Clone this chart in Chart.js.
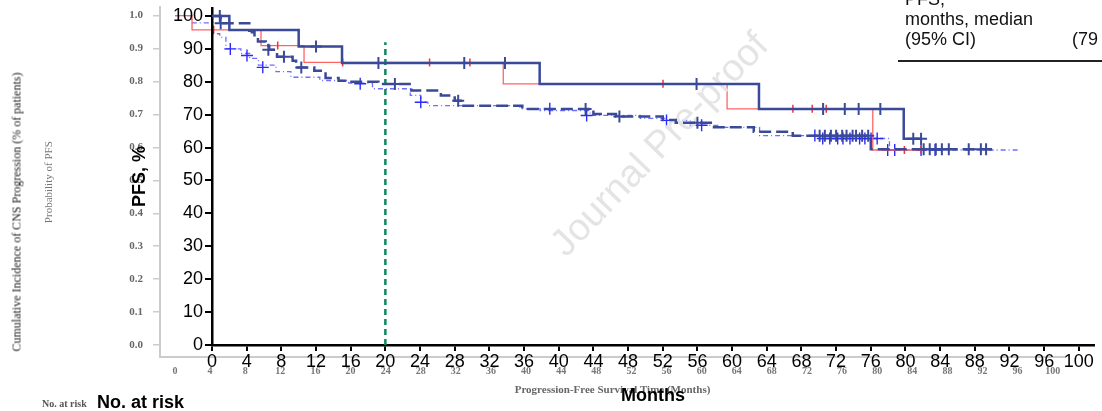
<!DOCTYPE html>
<html>
<head>
<meta charset="utf-8">
<script src="https://cdn.jsdelivr.net/npm/chart.js@4.4.0/dist/chart.umd.min.js"></script>
<style>
  html, body { margin: 0; padding: 0; background: #fff; }
  #wrap { position: relative; width: 1102px; height: 411px; overflow: hidden; font-family: "Liberation Sans", Arial, sans-serif; }
  #wrap canvas { position: absolute; left: 0; top: 0; }
  .txt { position: absolute; white-space: nowrap; }
  #mark { left: 659px; top: 144px; transform: translate(-50%, -50%) rotate(-46deg); font-size: 38px; color: #e4e4e4; }
  #cnsTitle { left: 17px; top: 212px; transform: translate(-50%, -50%) rotate(-90deg); font: 12px "Liberation Serif", serif; color: #222; }
  #riskBack { left: 42px; top: 398px; font: bold 10px "Liberation Serif", serif; color: #555; }
  #riskFront { left: 97px; top: 392px; font-weight: bold; font-size: 18px; line-height: 21px; color: #000; }
  #medianBox { left: 905px; top: -11px; font-size: 18px; line-height: 20px; color: #111; }
  #ciVal { left: 1072px; top: 29px; font-size: 18px; line-height: 20px; color: #111; }
  #boxRule { left: 898px; top: 60px; width: 204px; height: 2px; background: #222; }
</style>
</head>
<body>
<div id="wrap">
  <canvas id="back" width="1102" height="411"></canvas>
  <div class="txt" id="mark">Journal Pre-proof</div>
  <canvas id="front" width="1102" height="411"></canvas>
  <div class="txt" id="cnsTitle">Cumulative Incidence of CNS Progression (% of patients)</div>
  <div class="txt" id="riskBack">No. at risk</div>
  <div class="txt" id="riskFront">No. at risk</div>
  <div class="txt" id="medianBox">PFS,<br>months, median<br>(95% CI)</div>
  <div class="txt" id="ciVal">(79</div>
  <div class="txt" id="boxRule"></div>
</div>
<script>
// front plot: PFS, % vs months
const monthTicks = [0, 4, 8, 12, 16, 20, 24, 28, 32, 36, 40, 44, 48, 52, 56, 60, 64, 68, 72, 76, 80, 84, 88, 92, 96, 100];
const pfsTicks = [0, 10, 20, 30, 40, 50, 60, 70, 80, 90, 100];

const solidTimes = [0, 2.0, 10.0, 15.0, 37.8, 63.1, 79.8, 81.8];
const solidPfs = [100, 95.7, 90.7, 85.7, 79.3, 71.7, 62.7, 62.7];
const solidCensorTimes = [0.9, 12.0, 19.2, 29.1, 33.8, 55.9, 70.5, 73.0, 74.6, 77.1, 80.9, 81.8];
const solidCensorPfs = [100, 90.7, 85.7, 85.7, 85.7, 79.3, 71.7, 71.7, 71.7, 71.7, 62.7, 62.7];

const dashTimes = [0, 1.0, 4.3, 4.6, 4.9, 5.3, 6.2, 6.6, 7.5, 9.3, 9.7, 11.8, 13.1, 14.6, 15.8, 19.2, 23.0, 26.4, 28.0, 28.7, 35.8, 44.0, 46.6, 52.0, 53.5, 57.7, 62.5, 67.0, 76.0, 90.5];
const dashPfs = [100, 97.8, 95.5, 95.0, 93.6, 92.2, 90.9, 89.7, 87.6, 86.4, 84.3, 83.3, 81.1, 80.3, 80.0, 79.3, 77.3, 75.8, 74.2, 72.7, 71.7, 70.2, 69.4, 68.4, 67.5, 66.2, 64.8, 63.6, 59.5, 59.5];
const dashCensorTimes = [1.0, 6.5, 8.3, 10.3, 21.1, 28.4, 43.1, 47.0, 56.0, 70.1, 70.7, 71.4, 72.0, 72.7, 73.2, 73.9, 74.3, 75.0, 75.7, 82.1, 82.8, 83.5, 84.2, 85.0, 87.3, 88.7, 89.3];
const dashCensorPfs = [97.8, 89.7, 87.6, 84.3, 79.3, 74.2, 71.7, 69.4, 67.5, 63.6, 63.6, 63.6, 63.6, 63.6, 63.6, 63.6, 63.6, 63.6, 63.6, 59.5, 59.5, 59.5, 59.5, 59.5, 59.5, 59.5, 59.5];

const medianMonth = 20;
const medianLineTop = 92;

// back plot: probability vs survival time
const backMonthTicks = [0, 4, 8, 12, 16, 20, 24, 28, 32, 36, 40, 44, 48, 52, 56, 60, 64, 68, 72, 76, 80, 84, 88, 92, 96, 100];
const probTicks = [0, 0.1, 0.2, 0.3, 0.4, 0.5, 0.6, 0.7, 0.8, 0.9, 1.0];

const redTimes = [0, 1.94, 9.8, 14.7, 37.4, 62.9, 79.5, 85.4];
const redProb = [1.0, 0.957, 0.909, 0.858, 0.793, 0.717, 0.592, 0.592];
const redCensorTimes = [4.4, 11.7, 19.1, 29.0, 33.6, 55.6, 70.4, 72.6, 74.2, 83.1, 85.0];
const redCensorProb = [0.957, 0.909, 0.858, 0.858, 0.858, 0.793, 0.717, 0.717, 0.717, 0.592, 0.592];

const lightTimes = [0, 1.9, 4.3, 5.1, 5.8, 7.5, 8.5, 9.5, 11.5, 13.2, 16.5, 19.8, 22.5, 26.8, 28.0, 28.8, 39.3, 41.6, 47.3, 53.0, 55.9, 58.7, 62.1, 66.6, 73.5, 81.4, 96.0];
const lightProb = [1.0, 0.978, 0.945, 0.934, 0.899, 0.885, 0.87, 0.85, 0.83, 0.813, 0.803, 0.795, 0.778, 0.758, 0.737, 0.727, 0.717, 0.712, 0.697, 0.688, 0.682, 0.667, 0.661, 0.636, 0.627, 0.592, 0.592];
const lightCensorTimes = [6.3, 8.2, 10.0, 21.1, 28.0, 42.7, 46.9, 56.0, 60.0, 72.9, 73.8, 74.6, 75.5, 76.1, 76.9, 78.0, 78.6, 79.3, 80.0, 81.2, 82.0, 85.0, 86.6];
const lightCensorProb = [0.899, 0.879, 0.843, 0.793, 0.737, 0.717, 0.697, 0.682, 0.667, 0.636, 0.627, 0.627, 0.627, 0.627, 0.627, 0.627, 0.627, 0.627, 0.627, 0.592, 0.592, 0.592, 0.592];

const SANS = '"Liberation Sans", Arial, sans-serif';
const SERIF = '"Liberation Serif", "Times New Roman", serif';
const DARK = '#3b4a98';

const pts = (xs, ys) => xs.map((x, i) => ({ x: x, y: ys[i] }));
// keep the plot box where the layout padding puts it (no extra room for edge labels)
const noEdgePad = s => { s.paddingTop = 0; s.paddingBottom = 0; s.paddingLeft = 0; s.paddingRight = 0; };

new Chart(document.getElementById('back'), {
  type: 'line',
  data: {
    datasets: [
      { data: pts(redCensorTimes, redCensorProb), showLine: false, pointStyle: 'line', rotation: 90, pointRadius: 4, borderColor: '#ff3030', borderWidth: 1.5 },
      { data: pts(redTimes, redProb), stepped: 'before', borderColor: '#ff6464', borderWidth: 1.3, pointRadius: 0 },
      { data: pts(lightCensorTimes, lightCensorProb), showLine: false, pointStyle: 'cross', pointRadius: 6, borderColor: '#2a2aff', borderWidth: 1.4 },
      { data: pts(lightTimes, lightProb), stepped: 'before', borderColor: '#6d6dff', borderWidth: 1.3, borderDash: [5, 3, 1, 3], pointRadius: 0 }
    ]
  },
  options: {
    responsive: false,
    animation: false,
    devicePixelRatio: 1,
    layout: { padding: { left: 39, top: 5, right: 37, bottom: 0 } },
    plugins: { legend: { display: false }, tooltip: { enabled: false } },
    scales: {
      x: {
        type: 'linear', min: -1.71, max: 101.4,
        afterBuildTicks: s => { s.ticks = backMonthTicks.map(v => ({ value: v })); },
        afterFit: s => { s.height = 54; noEdgePad(s); },
        ticks: { font: { family: SERIF, size: 10, weight: 'bold' }, color: '#777', padding: 8, maxRotation: 0, autoSkip: false },
        grid: { display: false, drawTicks: false },
        border: { color: '#cccccc', width: 2 },
        title: { display: true, text: 'Progression-Free Survival Time (Months)', font: { family: SERIF, size: 11, weight: 'bold' }, color: '#666', padding: { top: 0, bottom: 14 } }
      },
      y: {
        type: 'linear', min: -0.0364, max: 1.025,
        afterBuildTicks: s => { s.ticks = probTicks.map(v => ({ value: v })); },
        afterFit: s => { s.width = 121; noEdgePad(s); },
        ticks: { font: { family: SERIF, size: 11, weight: 'bold' }, color: '#666', padding: 10, callback: v => v.toFixed(1) },
        grid: { drawOnChartArea: false, tickLength: 7, color: '#cccccc', lineWidth: 1.5 },
        border: { color: '#cccccc', width: 2 },
        title: { display: true, text: 'Probability of PFS', font: { family: SERIF, size: 11 }, color: '#777', padding: { top: 4 } }
      }
    }
  }
});

new Chart(document.getElementById('front'), {
  type: 'line',
  data: {
    datasets: [
      { data: pts(solidCensorTimes, solidCensorPfs), showLine: false, pointStyle: 'cross', pointRadius: 6, borderColor: DARK, borderWidth: 2 },
      { data: pts(solidTimes, solidPfs), stepped: 'before', borderColor: DARK, borderWidth: 2.5, pointRadius: 0 },
      { data: pts(dashCensorTimes, dashCensorPfs), showLine: false, pointStyle: 'cross', pointRadius: 6, borderColor: DARK, borderWidth: 2 },
      { data: pts(dashTimes, dashPfs), stepped: 'before', borderColor: DARK, borderWidth: 2.5, borderDash: [12, 5], pointRadius: 0 },
      { data: [{ x: medianMonth, y: 0 }, { x: medianMonth, y: medianLineTop }], borderColor: '#13865f', borderWidth: 2.5, borderDash: [6, 4], pointRadius: 0 }
    ]
  },
  options: {
    responsive: false,
    animation: false,
    devicePixelRatio: 1,
    layout: { padding: { left: 125, top: 5, right: 0, bottom: 0 } },
    plugins: { legend: { display: false }, tooltip: { enabled: false } },
    scales: {
      x: {
        type: 'linear', min: 0, max: 101.75,
        afterBuildTicks: s => { s.ticks = monthTicks.map(v => ({ value: v })); },
        afterFit: s => { s.height = 66; noEdgePad(s); },
        ticks: { font: { family: SANS, size: 18 }, color: '#000', padding: 0, maxRotation: 0, autoSkip: false },
        grid: { drawOnChartArea: false, tickLength: 6, color: '#000', lineWidth: 2 },
        border: { color: '#000', width: 2.5 },
        title: { display: true, text: 'Months', font: { family: SANS, size: 18, weight: 'bold' }, color: '#000', padding: { top: 0, bottom: 4 } }
      },
      y: {
        type: 'linear', min: 0, max: 102.4,
        afterBuildTicks: s => { s.ticks = pfsTicks.map(v => ({ value: v })); },
        afterFit: s => { s.width = 87; noEdgePad(s); },
        ticks: { font: { family: SANS, size: 18 }, color: '#000', padding: 2 },
        grid: { drawOnChartArea: false, tickLength: 7, color: '#000', lineWidth: 2 },
        border: { color: '#000', width: 2.5 },
        title: { display: true, text: 'PFS, %', font: { family: SANS, size: 18, weight: 'bold' }, color: '#000', padding: { top: 4 } }
      }
    }
  }
});
</script>
</body>
</html>
